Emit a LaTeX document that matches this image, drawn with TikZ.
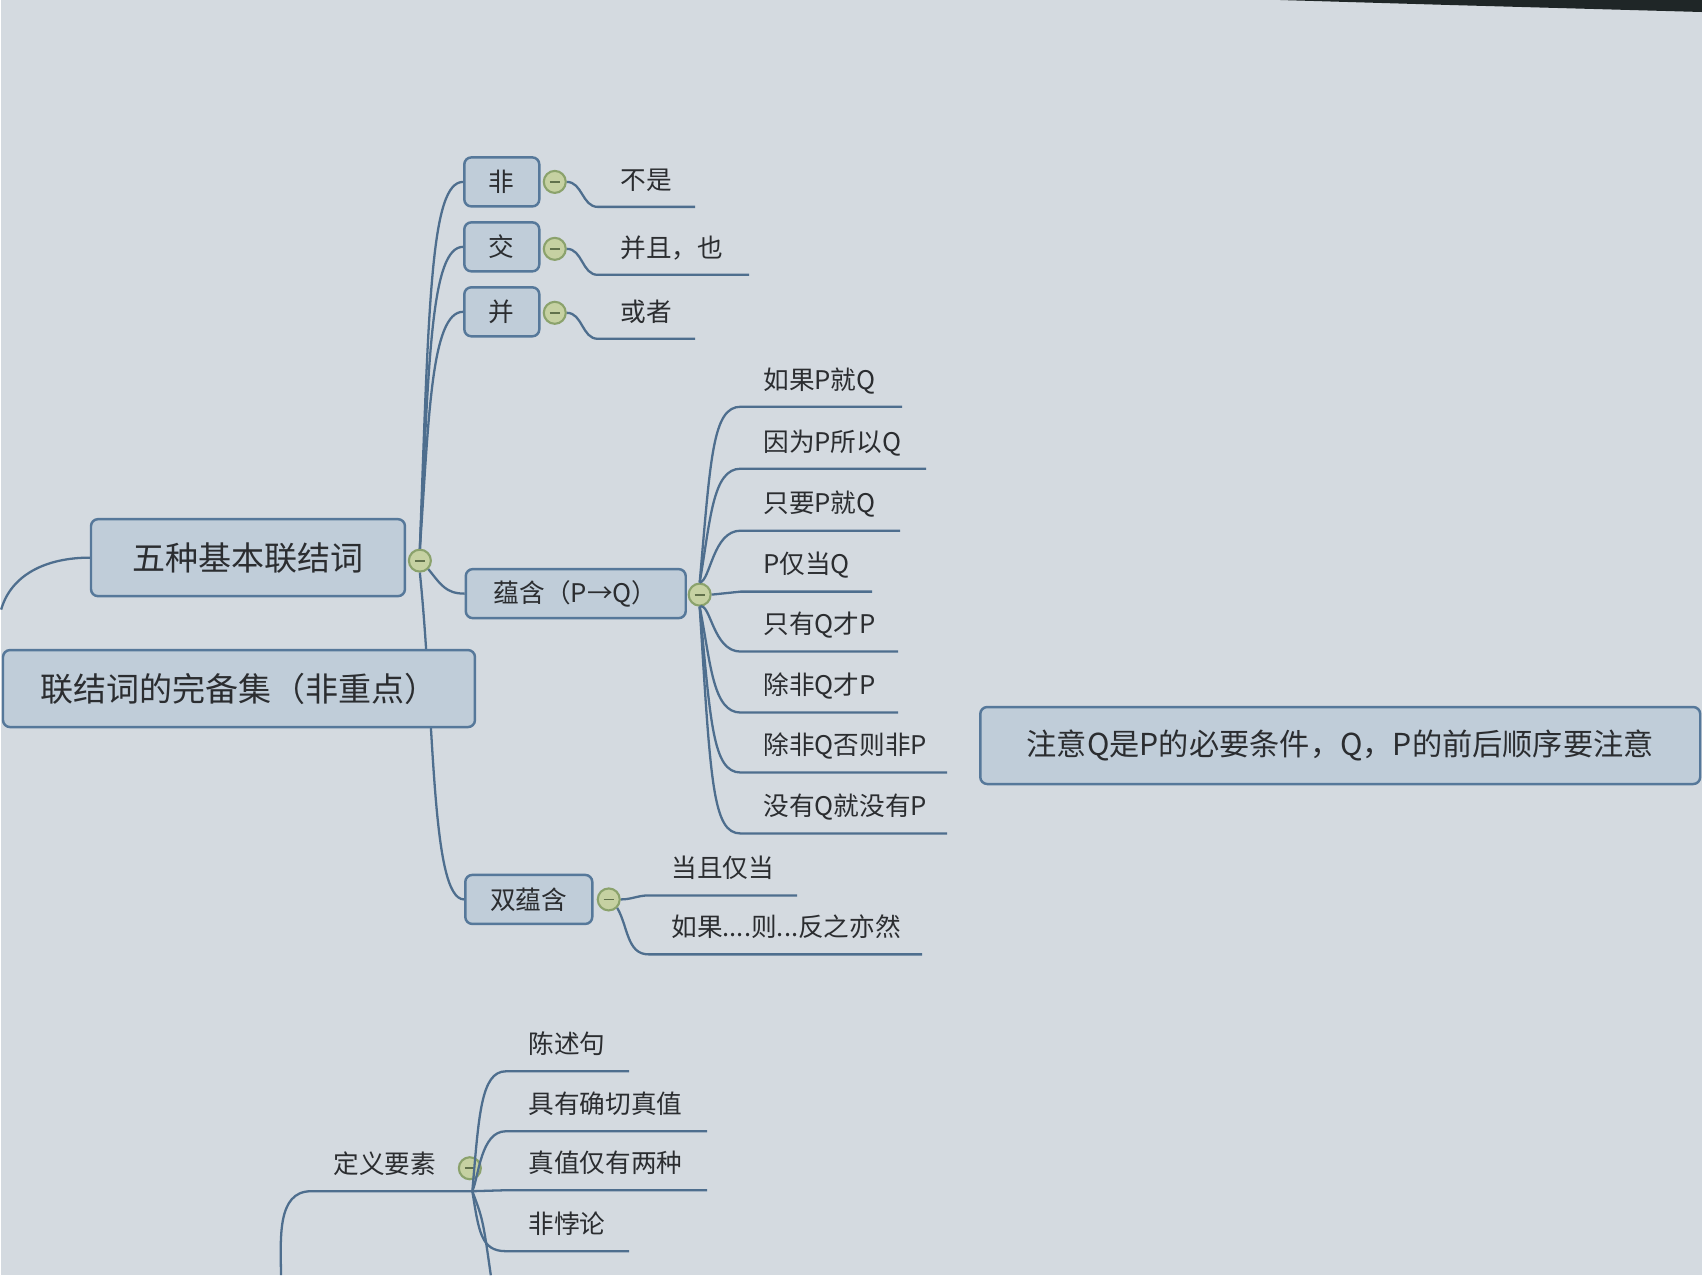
\documentclass[tikz,border=0pt]{standalone}
\usepackage{fontspec}
\setmainfont{Noto Sans CJK SC}
\definecolor{bgc}{HTML}{D4DAE0}
\definecolor{boxfill}{HTML}{C0CDD9}
\definecolor{boxline}{HTML}{56789A}
\definecolor{linkc}{HTML}{4E6E8E}
\definecolor{foldfill}{HTML}{C6D1A2}
\definecolor{foldline}{HTML}{8BA26C}
\definecolor{ink}{HTML}{2B2D30}
\definecolor{bezel}{HTML}{1F2627}
\begin{document}
\begin{tikzpicture}[x=0.01cm,y=-0.01cm,
  txs/.style={font=\fontsize{7.3}{9}\selectfont},
  txm/.style={font=\fontsize{8.6}{10}\selectfont},
  txl/.style={font=\fontsize{9.4}{11}\selectfont},
  topic/.style={draw=boxline, fill=boxfill, line width=0.7pt, rounded corners=0.07cm, text=ink, inner sep=0pt},
  opbox/.style={topic, txs, minimum width=0.75cm, minimum height=0.49cm},
  leaf/.style={txs, text=ink, anchor=south west, inner xsep=0.22cm, inner ysep=0.12cm, text height=0.2cm, text depth=0.05cm},
  fold/.style={circle, draw=foldline, fill=foldfill, line width=0.6pt, minimum size=0.22cm, inner sep=0pt,
    path picture={\draw[foldline!70!black, line width=0.5pt] ([xshift=-0.05cm]path picture bounding box.center) -- ([xshift=0.05cm]path picture bounding box.center);}},
  link/.style={draw=linkc, line width=0.65pt}]
\fill[bgc] (0,0) rectangle (1702,1276);
\fill[bezel] (1280,0) -- (1702,0) -- (1702,12) -- (1450,5) -- cycle;
% main topic
\node[topic, txl, minimum width=3.14cm, minimum height=0.77cm] (wz) at (247,558) {五种基本联结词};
\node[fold] (fwz) at (419,561) {};
\coordinate (lft) at (0,610);
\draw[link] (wz.west) .. controls (45,558) and (10,575) .. (lft);
% not, and, or
\node[opbox] (fei) at (501,182) {非};
\node[opbox] (jiao) at (501,247) {交};
\node[opbox] (bing) at (501,312) {并};
\node[fold] (ffei) at (554,182) {};
\node[fold] (fjiao) at (554,249) {};
\node[fold] (fbing) at (554,313) {};
\node[leaf, text width=0.52cm] (bs) at (597,207) {不是};
\node[leaf, text width=1.06cm] (bq) at (597,275) {并且，也};
\node[leaf, text width=0.52cm] (hz) at (597,339) {或者};
\draw[link] (ffei.east) to[out=0,in=180] (bs.south west) -- (bs.south east);
\draw[link] (fjiao.east) to[out=0,in=180] (bq.south west) -- (bq.south east);
\draw[link] (fbing.east) to[out=0,in=180] (hz.south west) -- (hz.south east);
% implication
\node[topic, txs, minimum width=2.2cm, minimum height=0.49cm] (yh) at (575,594) {蕴含（P→Q）};
\node[fold] (fyh) at (699,595) {};
\node[leaf, text width=1.16cm] (r1) at (740,407) {如果P就Q};
\node[leaf, text width=1.40cm] (r2) at (740,469) {因为P所以Q};
\node[leaf, text width=1.14cm] (r3) at (740,531) {只要P就Q};
\node[leaf, text width=0.86cm] (r4) at (740,592) {P仅当Q};
\node[leaf, text width=1.12cm] (r5) at (740,652) {只有Q才P};
\node[leaf, text width=1.12cm] (r6) at (740,713) {除非Q才P};
\node[leaf, text width=1.61cm] (r7) at (740,773) {除非Q否则非P};
\node[leaf, text width=1.61cm] (r8) at (740,834) {没有Q就没有P};
\foreach \lf/\yy in {r1/407,r2/469,r3/531}
  \draw[link] (fyh.north) .. controls (710,\yy+50) and (712,\yy) .. (\lf.south west) -- (\lf.south east);
\draw[link] (fyh.east) -- (r4.south west) -- (r4.south east);
\foreach \lf/\yy in {r5/652,r6/713,r7/773,r8/834}
  \draw[link] (fyh.south) .. controls (710,\yy-50) and (712,\yy) .. (\lf.south west) -- (\lf.south east);
% biconditional
\node[topic, txs, minimum width=1.27cm, minimum height=0.49cm] (syh) at (528,900) {双蕴含};
\node[fold] (fsyh) at (608,900) {};
\node[leaf, text width=1.03cm] (s1) at (648,896) {当且仅当};
\node[leaf, text width=2.28cm] (s2) at (648,955) {如果....则...反之亦然};
\draw[link] (fsyh.east) to[out=0,in=180] (s1.south west) -- (s1.south east);
\draw[link] (fsyh.south east) to[out=-60,in=180] (s2.south west) -- (s2.south east);
% trunk
\draw[link] (fwz.north) .. controls (428,300) and (430,182) .. (fei.west);
\draw[link] (fwz.north) .. controls (428,360) and (430,247) .. (jiao.west);
\draw[link] (fwz.north) .. controls (428,420) and (430,312) .. (bing.west);
\draw[link] (fwz.south east) .. controls (440,585) and (445,594) .. (yh.west);
\draw[link] (fwz.south) .. controls (434,720) and (430,900) .. (syh.west);
% boxes on top of the trunk
\node[topic, txl, minimum width=4.72cm, minimum height=0.77cm] (wb) at (238,689) {联结词的完备集（非重点）};
\node[topic, txm, minimum width=7.2cm, minimum height=0.77cm] (zy) at (1340,746) {注意Q是P的必要条件，Q，P的前后顺序要注意};
% definition
\node[leaf, text width=1.16cm] (dy) at (310,1192) {定义要素};
\node[fold] (fdy) at (469,1169) {};
\coordinate (dd) at (280,1276);
\draw[link] (dd) to[out=90,in=180] (dy.south west) -- (dy.south east);
\node[leaf, text width=0.78cm] (d1) at (505,1072) {陈述句};
\node[leaf, text width=1.56cm] (d2) at (505,1132) {具有确切真值};
\node[leaf, text width=1.56cm] (d3) at (505,1191) {真值仅有两种};
\node[leaf, text width=0.78cm] (d4) at (505,1252) {非悖论};
\coordinate (d5) at (490,1276);
\foreach \lf/\yy in {d1/1072,d2/1132}
  \draw[link] (dy.south east) .. controls (478,\yy+45) and (480,\yy) .. (\lf.south west) -- (\lf.south east);
\draw[link] (dy.south east) -- (d3.south west) -- (d3.south east);
\draw[link] (dy.south east) .. controls (478,1232) and (480,1252) .. (d4.south west) -- (d4.south east);
\draw[link] (dy.south east) .. controls (482,1220) .. (d5);
\end{tikzpicture}
\end{document}
